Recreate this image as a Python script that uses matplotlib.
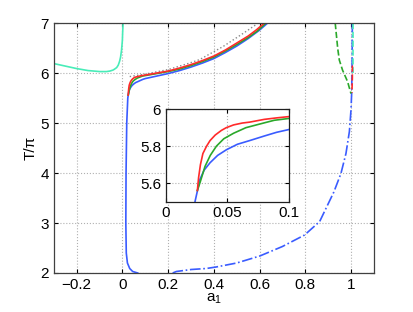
import matplotlib.pyplot as plt

plt.rcParams['font.family'] = ['Liberation Sans', 'DejaVu Sans']
plt.rcParams['mathtext.fontset'] = 'custom'
plt.rcParams['mathtext.rm'] = 'Liberation Sans'
plt.rcParams['mathtext.it'] = 'Liberation Sans'

# main branch (red / green / blue)
a_red = [0.0255, 0.0265, 0.028, 0.030, 0.033, 0.0358, 0.040, 0.045, 0.049, 0.055,
         0.062, 0.068, 0.08, 0.09, 0.1, 0.15, 0.2, 0.25, 0.3, 0.35, 0.4, 0.45,
         0.5, 0.55, 0.585, 0.621]
T_red = [5.56, 5.63, 5.70, 5.76, 5.80, 5.83, 5.86, 5.885, 5.90, 5.915,
         5.925, 5.93, 5.945, 5.953, 5.96, 6.0, 6.04, 6.10, 6.17, 6.25, 6.34, 6.46,
         6.60, 6.74, 6.86, 7.0]

a_green = [0.0255, 0.028, 0.0317, 0.036, 0.041, 0.047, 0.055, 0.065, 0.0764, 0.088,
           0.1, 0.15, 0.2, 0.25, 0.3, 0.35, 0.4, 0.45, 0.5, 0.55, 0.59, 0.628]
T_green = [5.56, 5.61, 5.69, 5.75, 5.80, 5.84, 5.87, 5.90, 5.92, 5.94,
           5.95, 5.99, 6.03, 6.08, 6.15, 6.23, 6.32, 6.44, 6.57, 6.71, 6.84, 7.0]

a_blue = [0.067, 0.045, 0.032, 0.022, 0.017, 0.015, 0.016, 0.019, 0.0236, 0.0256,
          0.0276, 0.031, 0.0358, 0.042, 0.049, 0.058, 0.068, 0.08, 0.09, 0.1,
          0.15, 0.2, 0.25, 0.3, 0.35, 0.4, 0.45, 0.5, 0.55, 0.6, 0.635]
T_blue = [2.0, 2.03, 2.09, 2.2, 2.4, 3.0, 4.0, 5.0, 5.5, 5.56,
          5.62, 5.67, 5.71, 5.75, 5.78, 5.81, 5.83, 5.855, 5.875, 5.89,
          5.94, 5.99, 6.05, 6.12, 6.20, 6.29, 6.41, 6.54, 6.69, 6.86, 7.0]

# gray dotted reference curve
a_ref = [0.032, 0.1, 0.2, 0.294, 0.338, 0.44, 0.527, 0.585, 0.59]
T_ref = [5.93, 5.98, 6.07, 6.2, 6.27, 6.53, 6.79, 6.97, 7.0]

# cyan branch on the left
a_cyan = [-0.3, -0.25, -0.2, -0.15, -0.099, -0.07, -0.055, -0.041, -0.034, -0.025,
          -0.018, -0.012, -0.008, -0.004, -0.002, 0.0, 0.001, 0.003]
T_cyan = [6.19, 6.14, 6.09, 6.05, 6.03, 6.03, 6.04, 6.06, 6.08, 6.11,
          6.16, 6.24, 6.32, 6.45, 6.55, 6.66, 6.8, 7.0]

# dashed branches
a_blue_d = [0.22, 0.236, 0.301, 0.367, 0.41, 0.5, 0.601, 0.7, 0.797, 0.863,
            0.925, 0.956, 0.978, 0.993, 1.0, 1.003, 1.005, 1.006]
T_blue_d = [2.0, 2.03, 2.07, 2.09, 2.12, 2.2, 2.34, 2.53, 2.76, 3.03,
            3.62, 3.99, 4.39, 4.83, 5.26, 5.6, 6.2, 7.0]

a_green_d = [0.931, 0.942, 0.949, 0.963, 0.985, 1.0]
T_green_d = [7.0, 6.49, 6.26, 6.06, 5.83, 5.59]

a_red_d = [1.006, 1.006, 1.004]
T_red_d = [6.15, 5.9, 5.6]

a_cyan_d = [1.007, 1.007]
T_cyan_d = [7.0, 6.0]

c_red = '#ff2a2a'
c_green = '#2aa82a'
c_blue = '#3a5cff'
c_cyan = '#48ecb8'

fig = plt.figure(figsize=(4.14, 3.12), dpi=100)
ax = fig.add_axes([0.130, 0.125, 0.773, 0.801])

ax.plot(a_ref, T_ref, ':', color='#888888', lw=1)
ax.plot(a_cyan, T_cyan, color=c_cyan, lw=1.2)
ax.plot(a_blue, T_blue, color=c_blue, lw=1.2)
ax.plot(a_green, T_green, color=c_green, lw=1.2)
ax.plot(a_red, T_red, color=c_red, lw=1.2)
ax.plot(a_blue_d, T_blue_d, '-.', color=c_blue, lw=1.2)
ax.plot(a_cyan_d, T_cyan_d, '--', color=c_cyan, lw=1.2)
ax.plot(a_red_d, T_red_d, '--', color=c_red, lw=1.2)
ax.plot(a_green_d, T_green_d, '--', color=c_green, lw=1.2)

ax.set_xlim(-0.3, 1.1)
ax.set_ylim(2, 7)
ax.set_xticks([-0.2, 0, 0.2, 0.4, 0.6, 0.8, 1])
ax.set_xticklabels(['\u22120.2', '0', '0.2', '0.4', '0.6', '0.8', '1'])
ax.set_yticks([2, 3, 4, 5, 6, 7])
ax.grid(True, ls=':', color='#b0b0b0', lw=0.8)
ax.tick_params(direction='in', top=True, right=True, labelsize=11, length=3)
for s in ax.spines.values():
    s.set_color('#404040')
    s.set_linewidth(0.9)
ax.set_xlabel('a$_1$', fontsize=11, labelpad=0)
ax.set_ylabel('T/\u03c0', fontsize=11, labelpad=2)

# inset zoom of the onset
ins = fig.add_axes([0.401, 0.354, 0.297, 0.296])
ins.plot(a_blue, T_blue, color=c_blue, lw=1.2)
ins.plot(a_green, T_green, color=c_green, lw=1.2)
ins.plot(a_red, T_red, color=c_red, lw=1.2)
ins.set_xlim(0, 0.1)
ins.set_ylim(5.5, 6)
ins.set_xticks([0, 0.05, 0.1])
ins.set_xticklabels(['0', '0.05', '0.1'])
ins.set_yticks([5.6, 5.8, 6])
ins.set_yticklabels(['5.6', '5.8', '6'])
ins.grid(True, ls=':', color='#b0b0b0', lw=0.8)
ins.tick_params(direction='in', top=True, right=True, labelsize=11, length=3)
for s in ins.spines.values():
    s.set_color('#202020')
    s.set_linewidth(0.9)

fig.savefig('out.png', dpi=100)
